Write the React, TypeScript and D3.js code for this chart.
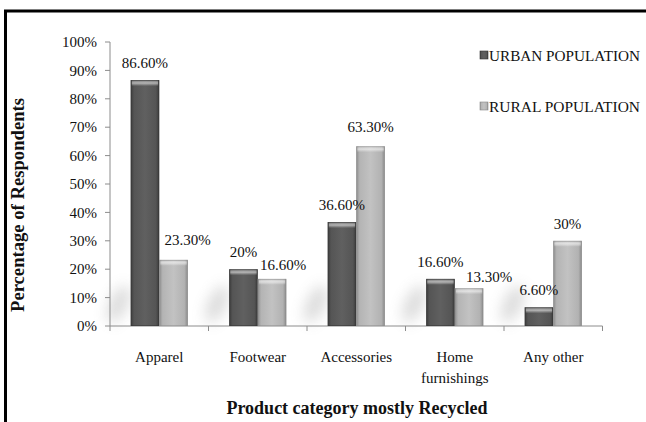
import React from "react";
import * as d3 from "d3";

// Product categories (line breaks mark wrapped axis labels)
const categories = ["Apparel", "Footwear", "Accessories", "Home\nfurnishings", "Any other"];
// Share of respondents (%) per category
const urbanValues = [86.6, 20, 36.6, 16.6, 6.6];
const ruralValues = [23.3, 16.6, 63.3, 13.3, 30];
const seriesNames = ["URBAN POPULATION", "RURAL POPULATION"];
const yTickValues = [0, 10, 20, 30, 40, 50, 60, 70, 80, 90, 100];

const W = 646;
const H = 422;
const FONT = "'Liberation Serif', 'Times New Roman', serif";

// manual nudges for labels that would otherwise collide [dx, dy]
const ruralLabelNudge: [number, number][] = [
  [14, -3],
  [11, 3],
  [0, -2],
  [20, 6],
  [0, 0],
];

const fmt = (v: number) => (Number.isInteger(v) ? `${v}` : v.toFixed(2)) + "%";

export default function App() {
  const x = d3.scaleBand<string>().domain(categories).range([110, 602.5]).padding(0);
  const y = d3.scaleLinear().domain([0, 100]).range([326, 42]);
  const barW = x.bandwidth() * 0.29;
  const series = [urbanValues, ruralValues];
  const fills = ["url(#gUrban)", "url(#gRural)"];

  return (
    <div style={{ position: "fixed", left: 0, top: 0 }}>
      <svg width={W} height={H} style={{ display: "block", background: "#fff" }}>
        <defs>
          <linearGradient id="gUrban" x1="0" x2="1" y1="0" y2="0">
            <stop offset="0" stopColor="#3c3c3c" />
            <stop offset="0.12" stopColor="#555" />
            <stop offset="0.5" stopColor="#606060" />
            <stop offset="0.88" stopColor="#555" />
            <stop offset="1" stopColor="#3a3a3a" />
          </linearGradient>
          <linearGradient id="gRural" x1="0" x2="1" y1="0" y2="0">
            <stop offset="0" stopColor="#8e8e8e" />
            <stop offset="0.12" stopColor="#b4b4b4" />
            <stop offset="0.5" stopColor="#c2c2c2" />
            <stop offset="0.88" stopColor="#b2b2b2" />
            <stop offset="1" stopColor="#8a8a8a" />
          </linearGradient>
          <linearGradient id="bevel" x1="0" x2="0" y1="0" y2="1">
            <stop offset="0" stopColor="#fff" stopOpacity="0.15" />
            <stop offset="0.5" stopColor="#fff" stopOpacity="0.55" />
            <stop offset="1" stopColor="#fff" stopOpacity="0" />
          </linearGradient>
          <filter id="soft" x="-80%" y="-80%" width="260%" height="260%">
            <feGaussianBlur stdDeviation="7" />
          </filter>
        </defs>

        {/* frame */}
        <rect x={5.5} y={11} width={720} height={520} fill="none" stroke="#000" strokeWidth={3} />

        {/* soft floor shadows beside each group */}
        {categories.map((c) => {
          const cx = (x(c) as number) + x.bandwidth() / 2 - barW - 12;
          return (
            <ellipse
              key={"sh" + c}
              cx={cx}
              cy={304}
              rx={9}
              ry={20}
              transform={`rotate(25 ${cx} 304)`}
              fill="#8a8a8a"
              opacity={0.3}
              filter="url(#soft)"
            />
          );
        })}

        {/* y axis */}
        <line x1={110} x2={110} y1={y(100)} y2={y(0)} stroke="#8c8c8c" strokeWidth={1} />
        {yTickValues.map((t) => (
          <g key={"yt" + t}>
            <line x1={105} x2={110} y1={y(t)} y2={y(t)} stroke="#8c8c8c" />
            <text x={97} y={y(t)} dy="0.35em" textAnchor="end" fontFamily={FONT} fontSize={15} fill="#111">
              {t}%
            </text>
          </g>
        ))}

        {/* x axis */}
        <line x1={110} x2={602.5} y1={y(0)} y2={y(0)} stroke="#8c8c8c" />
        {[...categories.map((c) => x(c) as number), 602.5].map((px, i) => (
          <line key={"xt" + i} x1={px} x2={px} y1={y(0)} y2={y(0) + 5} stroke="#8c8c8c" />
        ))}
        {categories.map((c) => {
          const cx = (x(c) as number) + x.bandwidth() / 2;
          return (
            <text key={"xl" + c} x={cx} y={362} textAnchor="middle" fontFamily={FONT} fontSize={15} fill="#111">
              {c.split("\n").map((ln, i) => (
                <tspan key={i} x={cx} dy={i === 0 ? 0 : 21}>
                  {ln}
                </tspan>
              ))}
            </text>
          );
        })}

        {/* bars */}
        {series.map((vals, s) =>
          vals.map((v, i) => {
            const bx = (x(categories[i]) as number) + x.bandwidth() / 2 - barW + s * barW;
            const top = y(v);
            const h = y(0) - top;
            return (
              <g key={`b${s}-${i}`}>
                <rect x={bx} y={top} width={barW} height={h} fill={fills[s]} />
                <rect x={bx + 1} y={top} width={barW - 2} height={Math.min(6, h)} fill="url(#bevel)" />
                <rect x={bx + 0.5} y={top + 0.5} width={barW - 1} height={h - 1} fill="none" stroke={s === 0 ? "#333" : "#8a8a8a"} strokeWidth={0.8} opacity={0.6} />
              </g>
            );
          })
        )}

        {/* value labels */}
        {series.map((vals, s) =>
          vals.map((v, i) => {
            const cx = (x(categories[i]) as number) + x.bandwidth() / 2 - barW / 2 + s * barW;
            const [dx, dy] = s === 1 ? ruralLabelNudge[i] : [0, 0];
            return (
              <text key={`l${s}-${i}`} x={cx + dx} y={y(v) - 12 + dy} textAnchor="middle" fontFamily={FONT} fontSize={15} fill="#111">
                {fmt(v)}
              </text>
            );
          })
        )}

        {/* legend */}
        {seriesNames.map((n, i) => (
          <g key={"lg" + n}>
            <rect x={480} y={51 + i * 51} width={8} height={8} fill={fills[i]} stroke={i === 0 ? "#333" : "#888"} strokeWidth={0.6} />
            <text x={489} y={61 + i * 51} fontFamily={FONT} fontSize={15} fill="#111" textLength={151} lengthAdjust="spacingAndGlyphs">
              {n}
            </text>
          </g>
        ))}

        {/* axis titles */}
        <text
          transform="translate(24,205) rotate(-90)"
          textAnchor="middle"
          fontFamily={FONT}
          fontWeight="bold"
          fontSize={18}
          fill="#111"
          textLength={214}
          lengthAdjust="spacingAndGlyphs"
        >
          Percentage of Respondents
        </text>
        <text x={357} y={414} textAnchor="middle" fontFamily={FONT} fontWeight="bold" fontSize={18} fill="#111">
          Product category mostly Recycled
        </text>
      </svg>
    </div>
  );
}
